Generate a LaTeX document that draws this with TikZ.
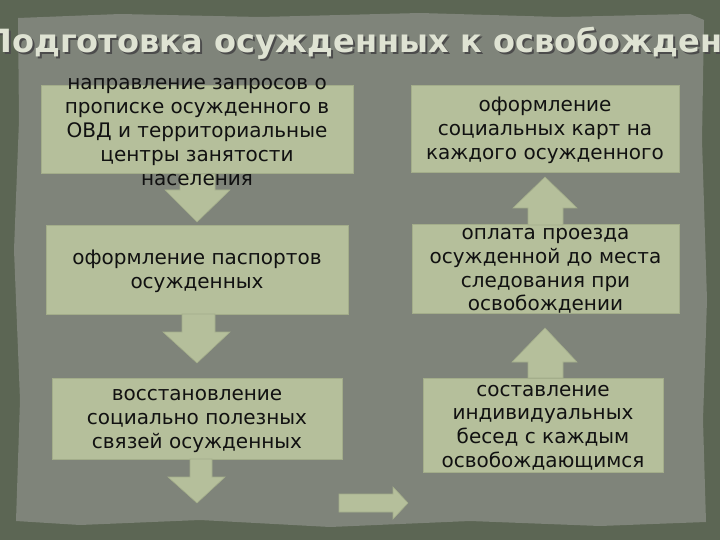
\documentclass[tikz,border=0pt]{standalone}
\usepackage{fontspec}
\setmainfont{DejaVu Sans}
\definecolor{outerbg}{HTML}{5C6654}
\definecolor{panel}{HTML}{7F847A}
\definecolor{boxfill}{HTML}{B5BF9B}
\definecolor{boxline}{HTML}{A3AD8A}
\definecolor{titlecol}{HTML}{DFE3D3}
\definecolor{txtcol}{HTML}{111111}
\tikzset{
  stepbox/.style={draw=boxline, line width=1pt, fill=boxfill, inner sep=0pt},
  steptext/.style={text=txtcol, font=\fontsize{20}{23.8}\selectfont, align=center, inner sep=0pt},
  blockarrow/.style={fill=boxfill, draw=boxline, line width=0.6pt},
  titletext/.style={anchor=base west, font=\fontsize{32}{38}\selectfont\bfseries},
}
\begin{document}
\begin{tikzpicture}[x=1pt,y=-1pt]
\useasboundingbox (0,0) rectangle (720,540);
\clip (0,0) rectangle (720,540);
% background
\fill[outerbg] (0,0) rectangle (720,540);
\fill[panel] (18,18) -- (120,14) -- (260,17) -- (420,13) -- (560,17) -- (690,14) -- (704,20)
  -- (702,140) -- (707,300) -- (703,420) -- (706,522) -- (600,526) -- (470,521) -- (330,527)
  -- (200,520) -- (80,525) -- (16,521) -- (20,400) -- (14,250) -- (19,120) -- cycle;
% title
\node[titletext, text=black!70] at (-16,55) {Подготовка осужденных к освобождению};
\node[titletext, text=titlecol] (title) at (-18,53) {Подготовка осужденных к освобождению};
% boxes
\node[stepbox, minimum width=312, minimum height=88] (b1) at (197,130) {};
\node[stepbox, minimum width=302, minimum height=88] (b2) at (197,270) {};
\node[stepbox, minimum width=290, minimum height=81] (b3) at (197,418.5) {};
\node[stepbox, minimum width=268, minimum height=87] (r1) at (545,129.5) {};
\node[stepbox, minimum width=267, minimum height=88] (r2) at (545.5,269) {};
\node[stepbox, minimum width=240, minimum height=94] (r3) at (543,425) {};
% down arrows
\filldraw[blockarrow] (180,174) -- (215,174) -- (215,190) -- (230,190) -- (197,222) -- (165,190) -- (180,190) -- cycle;
\filldraw[blockarrow] (182,314) -- (215,314) -- (215,332) -- (230,332) -- (197,363) -- (163,332) -- (182,332) -- cycle;
\filldraw[blockarrow] (190,459) -- (212,459) -- (212,477) -- (225,477) -- (197,503) -- (168,477) -- (190,477) -- cycle;
% right arrow
\filldraw[blockarrow] (339,494) -- (393,494) -- (393,487) -- (408,503) -- (393,519) -- (393,512) -- (339,512) -- cycle;
% up arrows
\filldraw[blockarrow] (528,225) -- (528,208) -- (513,208) -- (545,177) -- (577,208) -- (563,208) -- (563,225) -- cycle;
\filldraw[blockarrow] (528,378) -- (528,362) -- (512,362) -- (545,328) -- (577,362) -- (563,362) -- (563,378) -- cycle;
% texts
\node[steptext] (t1) at (197,132) {направление запросов о\\прописке осужденного в\\ОВД и территориальные\\центры занятости\\населения};
\node[steptext] (t2) at (197,271.5) {оформление паспортов\\осужденных};
\node[steptext] (t3) at (197,421) {восстановление\\социально полезных\\связей осужденных};
\node[steptext] (u1) at (545,130.5) {оформление\\социальных карт на\\каждого осужденного};
\node[steptext] (u2) at (545.5,271) {оплата проезда\\осужденной до места\\следования при\\освобождении};
\node[steptext] (u3) at (543,427.5) {составление\\индивидуальных\\бесед с каждым\\освобождающимся};
\end{tikzpicture}
\end{document}
